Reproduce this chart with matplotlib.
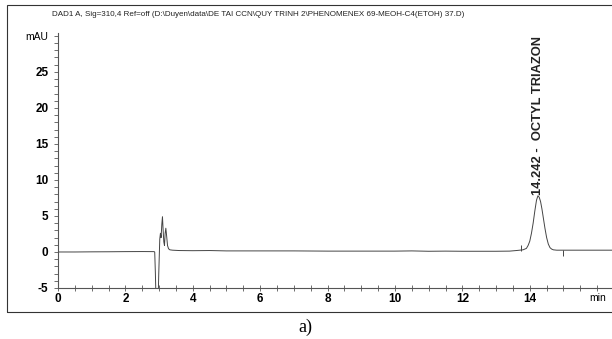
import matplotlib.pyplot as plt
from matplotlib.patches import Rectangle

# chromatogram (time in min, signal in mAU)
t_base1 = [0.0, 0.5, 1.0, 1.5, 2.0, 2.5, 2.85]
y_base1 = [0.0, 0.0, 0.02, 0.03, 0.05, 0.06, 0.05]

t_front = [2.87, 2.89, 2.91, 2.97, 2.99, 3.02, 3.04, 3.06, 3.08, 3.10, 3.12, 3.14, 3.16, 3.18, 3.20, 3.22, 3.25, 3.28, 3.32, 3.40]
y_front = [0.0, -3.0, -7.0, -7.0, -3.0, 1.8, 2.6, 2.0, 3.8, 4.9, 3.0, 1.4, 0.9, 2.6, 3.3, 2.4, 0.9, 0.45, 0.3, 0.25]

t_base2 = [3.6, 4.0, 4.5, 5.0, 6.0, 7.0, 8.0, 9.0, 10.0, 10.5, 11.0, 11.5, 12.0, 12.5, 13.0, 13.4, 13.6]
y_base2 = [0.2, 0.18, 0.2, 0.15, 0.15, 0.15, 0.12, 0.12, 0.12, 0.15, 0.1, 0.12, 0.1, 0.1, 0.1, 0.12, 0.2]

t_peak = [13.7, 13.8, 13.9, 13.95, 14.0, 14.05, 14.1, 14.15, 14.2, 14.242, 14.28, 14.32, 14.36, 14.4, 14.45, 14.5, 14.55, 14.6, 14.65, 14.7, 14.8]
y_peak = [0.25, 0.3, 0.5, 0.9, 1.5, 2.6, 4.0, 5.7, 7.2, 7.8, 7.6, 7.0, 6.0, 4.8, 3.3, 2.0, 1.1, 0.6, 0.4, 0.3, 0.25]

t_base3 = [15.0, 15.5, 16.0, 16.44]
y_base3 = [0.25, 0.25, 0.25, 0.25]

t = t_base1 + t_front + t_base2 + t_peak + t_base3
y = y_base1 + y_front + y_base2 + y_peak + y_base3

# integration marks
mark_t = [13.75, 15.0]
mark_lo = [0.2, -0.6]
mark_hi = [1.0, 0.25]

peak_rt = 14.242
peak_top = 7.8
peak_name = 'OCTYL TRIAZON'

title = r'DAD1 A, Sig=310,4 Ref=off (D:\Duyen\data\DE TAI CCN\QUY TRINH 2\PHENOMENEX 69-MEOH-C4(ETOH) 37.D)'

plt.rcParams['font.family'] = ['Liberation Sans', 'DejaVu Sans']

fig = plt.figure(figsize=(6.12, 3.39), dpi=100)
fig.patches.append(Rectangle((7 / 612, 1 - 312 / 339), 1.0, (312 - 5) / 339,
                             transform=fig.transFigure, fill=False,
                             edgecolor='#333333', linewidth=0.8))

ax = fig.add_axes([58 / 612, 1 - 288 / 339, 1 - 58 / 612, (288 - 33) / 339])
ax.plot(t, y, color='#444444', linewidth=0.7)
ax.vlines(mark_t, mark_lo, mark_hi, color='#444444', linewidth=0.7)

ax.set_xlim(0, 16.44)
ax.set_ylim(-5, 30.4)
ax.spines['top'].set_visible(False)
ax.spines['right'].set_visible(False)
for s in ('left', 'bottom'):
    ax.spines[s].set_color('#555555')
    ax.spines[s].set_linewidth(0.8)

ax.set_xticks([0, 2, 4, 6, 8, 10, 12, 14, 16])
ax.set_xticklabels(['0', '2', '4', '6', '8', '10', '12', '14', 'min'])
ax.set_xticks([i * 0.5 for i in range(33)], minor=True)
ax.set_yticks([-5, 0, 5, 10, 15, 20, 25, 30])
ax.set_yticklabels(['-5', '0', '5', '10', '15', '20', '25', 'mAU'])
ax.set_yticks(list(range(-5, 31)), minor=True)

ax.tick_params(axis='x', which='both', direction='inout', length=5, width=0.6,
               color='#555555', labelsize=8.5, pad=1)
ax.tick_params(axis='y', which='both', direction='out', length=3, width=0.6,
               color='#555555', labelsize=8.5, pad=4)
for lab in ax.get_xticklabels() + ax.get_yticklabels():
    lab.set_fontweight('bold')
for lab in (ax.get_yticklabels()[-1], ax.get_xticklabels()[-1]):
    lab.set_fontsize(7.5)
    lab.set_fontweight('normal')

ax.text(peak_rt, peak_top + 0.1, f'{peak_rt:.3f} -  {peak_name}', rotation=90,
        ha='center', va='bottom', fontsize=9.3, fontweight='bold', color='#222222')

fig.text(52 / 612, 1 - 15 / 339, title, ha='left', va='center', fontsize=5.8,
         color='#222222')
fig.text(305 / 612, 1 - 327 / 339, 'a)', ha='center', va='center', fontsize=13,
         family=['Liberation Serif', 'DejaVu Serif'])

fig.savefig('out.png', dpi=100)
